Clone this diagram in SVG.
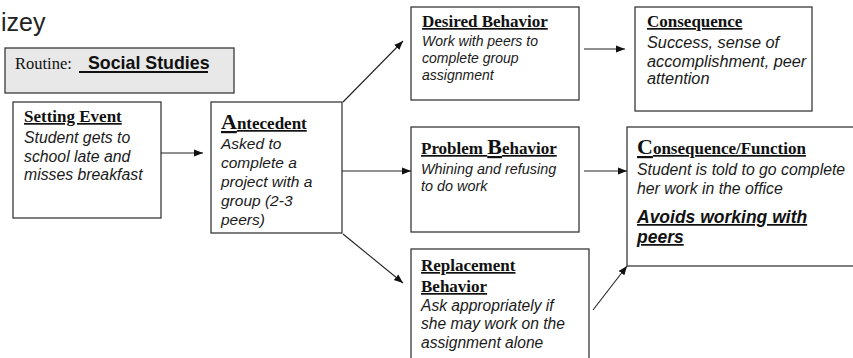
<svg xmlns="http://www.w3.org/2000/svg" width="853" height="358" viewBox="0 0 853 358">
  <style>
    .box { fill: #ffffff; stroke: #3a3a3a; stroke-width: 1.3; }
    .routine { fill: #e8e8e8; stroke: #3a3a3a; stroke-width: 1.3; }
    .title { font-family: "Liberation Serif", "Times New Roman", serif; font-weight: bold; font-size: 17px; fill: #111; text-decoration: underline; text-decoration-thickness: 2px; }
    .cap { font-size: 22px; }
    .body { font-family: "Liberation Sans", Arial, sans-serif; font-style: italic; fill: #1a1a1a; }
    .key { font-family: "Liberation Sans", Arial, sans-serif; font-weight: bold; font-style: italic; font-size: 17.5px; fill: #111; text-decoration: underline; text-decoration-thickness: 2px; }
    .conn { stroke: #222; stroke-width: 1.1; fill: none; marker-end: url(#arrow); }
  </style>
  <defs>
    <marker id="arrow" viewBox="0 0 10 10" refX="10" refY="5" markerWidth="9" markerHeight="9" markerUnits="userSpaceOnUse" orient="auto">
      <path d="M0,1 L10,5 L0,9 Z" fill="#111"/>
    </marker>
  </defs>

  <rect width="853" height="358" fill="#ffffff"/>

  <!-- page heading -->
  <text x="1" y="31" font-family="Liberation Sans, Arial, sans-serif" font-size="25" fill="#222">izey</text>

  <!-- routine label -->
  <g id="routine">
    <rect class="routine" x="5" y="48" width="229" height="45"/>
    <text x="15" y="69" font-family="Liberation Serif, Times New Roman, serif" font-size="16.5" fill="#111">Routine:</text>
    <line x1="79" y1="72" x2="208" y2="72" stroke="#111" stroke-width="2"/>
    <text x="88" y="69" font-family="Liberation Sans, Arial, sans-serif" font-weight="bold" font-size="17.8" fill="#111">Social Studies</text>
  </g>

  <g id="setting-event">
    <rect class="box" x="13" y="102" width="148" height="116"/>
    <text class="title" x="24" y="122">Setting Event</text>
    <text class="body" font-size="15.8">
      <tspan x="24" y="143">Student gets to</tspan>
      <tspan x="24" y="162">school late and</tspan>
      <tspan x="24" y="180">misses breakfast</tspan>
    </text>
  </g>

  <g id="antecedent">
    <rect class="box" x="211" y="102" width="131" height="131"/>
    <text class="title" x="221" y="129"><tspan class="cap">A</tspan>ntecedent</text>
    <text class="body" font-size="15.5">
      <tspan x="221" y="149">Asked to</tspan>
      <tspan x="221" y="168">complete a</tspan>
      <tspan x="221" y="187">project with a</tspan>
      <tspan x="221" y="206">group (2-3</tspan>
      <tspan x="221" y="225">peers)</tspan>
    </text>
  </g>

  <g id="desired-behavior">
    <rect class="box" x="411" y="7" width="168" height="93"/>
    <text class="title" x="422" y="27">Desired Behavior</text>
    <text class="body" font-size="14">
      <tspan x="422" y="46">Work with peers to</tspan>
      <tspan x="422" y="63">complete group</tspan>
      <tspan x="422" y="80">assignment</tspan>
    </text>
  </g>

  <g id="consequence">
    <rect class="box" x="635" y="7" width="177" height="104"/>
    <text class="title" x="647" y="27">Consequence</text>
    <text class="body" font-size="16.3">
      <tspan x="647" y="48">Success, sense of</tspan>
      <tspan x="647" y="67">accomplishment, peer</tspan>
      <tspan x="647" y="84">attention</tspan>
    </text>
  </g>

  <g id="problem-behavior">
    <rect class="box" x="411" y="127" width="168" height="105"/>
    <text class="title" x="421" y="154">Problem <tspan class="cap">B</tspan>ehavior</text>
    <text class="body" font-size="14.4">
      <tspan x="421" y="174">Whining and refusing</tspan>
      <tspan x="421" y="191">to do work</tspan>
    </text>
  </g>

  <g id="consequence-function">
    <rect class="box" x="627" y="127" width="240" height="139"/>
    <text class="title" x="637" y="154"><tspan class="cap">C</tspan>onsequence/Function</text>
    <text class="body" font-size="15.8">
      <tspan x="637" y="175">Student is told to go complete</tspan>
      <tspan x="637" y="194">her work in the office</tspan>
    </text>
    <text class="key" x="637" y="223">Avoids working with</text>
    <text class="key" x="637" y="243">peers</text>
  </g>

  <g id="replacement-behavior">
    <rect class="box" x="411" y="249" width="178" height="120"/>
    <text class="title" x="421" y="271">Replacement</text>
    <text class="title" x="421" y="292">Behavior</text>
    <text class="body" font-size="15.6">
      <tspan x="421" y="311">Ask appropriately if</tspan>
      <tspan x="421" y="329">she may work on the</tspan>
      <tspan x="421" y="348">assignment alone</tspan>
    </text>
  </g>

  <g id="connectors">
    <line class="conn" x1="161" y1="153" x2="203" y2="153"/>
    <line class="conn" x1="343" y1="102" x2="403" y2="41"/>
    <line class="conn" x1="342" y1="171" x2="411" y2="171"/>
    <line class="conn" x1="343" y1="234" x2="403" y2="283"/>
    <line class="conn" x1="584" y1="49" x2="625" y2="49"/>
    <line class="conn" x1="584" y1="171" x2="627" y2="171"/>
    <line class="conn" x1="593" y1="310" x2="627" y2="266"/>
  </g>
</svg>
